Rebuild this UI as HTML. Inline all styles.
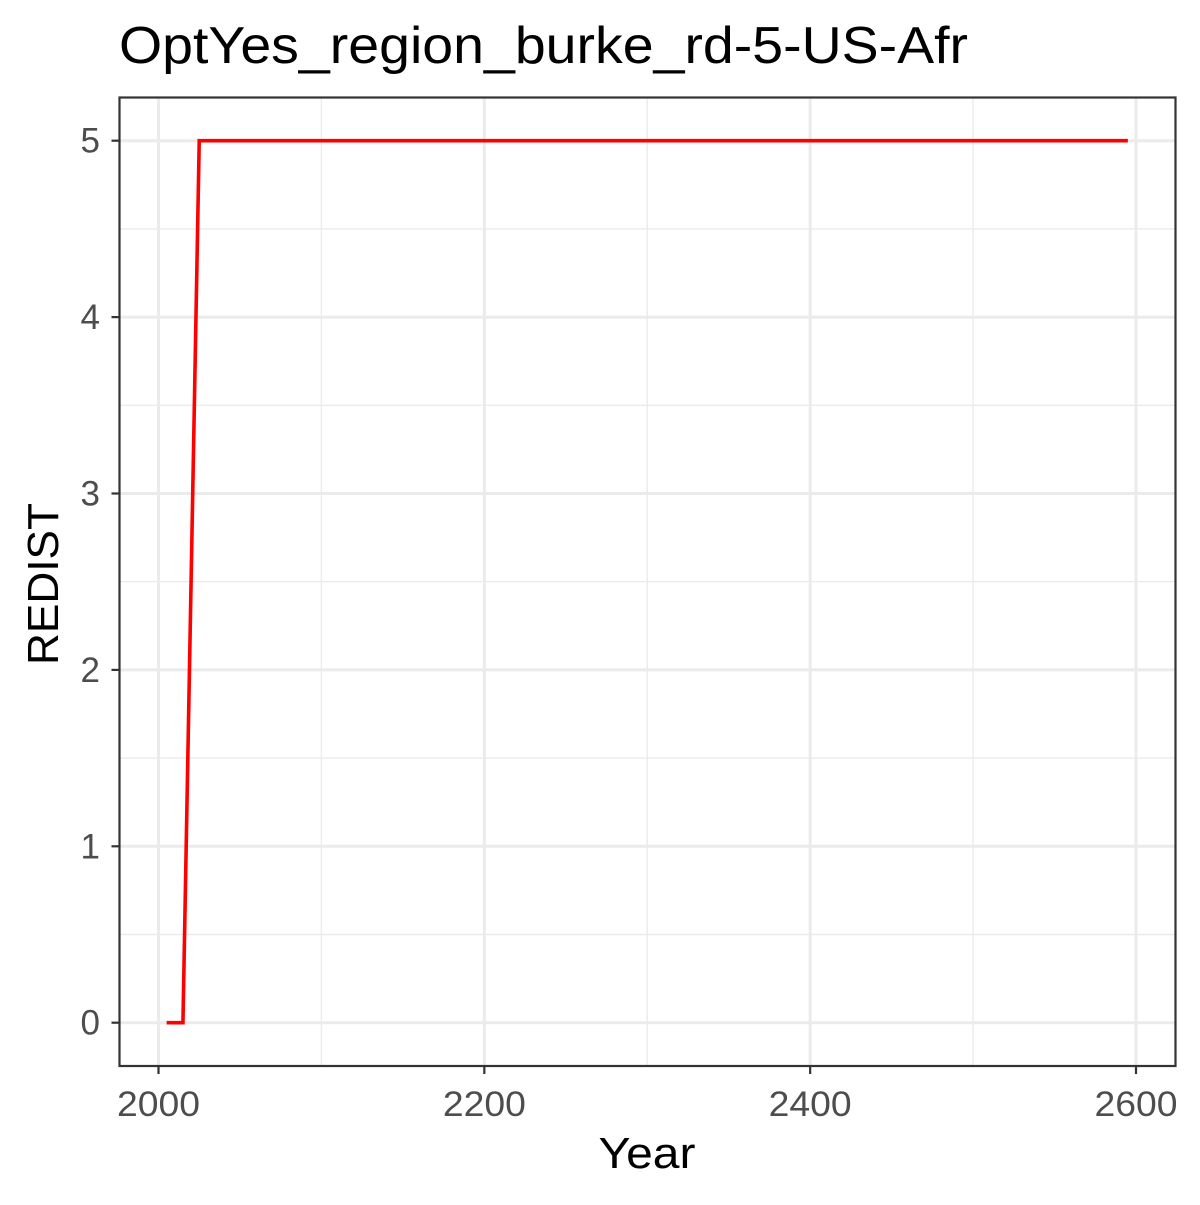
<!DOCTYPE html>
<html><head><meta charset="utf-8"><style>
body{margin:0;background:#fff}
svg text{font-family:"Liberation Sans",Arial,sans-serif}
</style></head><body>
<svg id="c" width="1200" height="1200" xmlns="http://www.w3.org/2000/svg">
<rect width="1200" height="1200" fill="#fff"/>
<text x="119" y="63" font-size="52" textLength="849" lengthAdjust="spacingAndGlyphs" fill="#000">OptYes_region_burke_rd-5-US-Afr</text>
<g id="grid"></g>
<g id="series"></g>
<rect x="119.5" y="97.5" width="1056" height="968.5" fill="none" stroke="#333" stroke-width="2.2"/>
<g id="axes"></g>
<text x="647" y="1168" font-size="44" textLength="97" lengthAdjust="spacingAndGlyphs" text-anchor="middle" fill="#000">Year</text>
<text transform="translate(58,584) rotate(-90)" font-size="44" textLength="162" lengthAdjust="spacingAndGlyphs" text-anchor="middle" fill="#000">REDIST</text>
</svg>
<script>
const years = [2005, 2015, 2025, 2595];
const redist = [0, 0, 5, 5];
const xTicks = [2000, 2200, 2400, 2600];
const yTicks = [0, 1, 2, 3, 4, 5];
const xMinor = [2100, 2300, 2500];
const yMinor = [0.5, 1.5, 2.5, 3.5, 4.5];

const NS = "http://www.w3.org/2000/svg";
const L = 119.5, R = 1175.5, T = 97.5, B = 1066;
function sx(v){ return 158.5 + (v - 2000) * (1136 - 158.5) / 600; }
function sy(v){ return 1022.7 - v * (1022.7 - 140.7) / 5; }
function mk(tag, attrs, parent){ const e = document.createElementNS(NS, tag); for (const k in attrs) e.setAttribute(k, attrs[k]); parent.appendChild(e); return e; }
const grid = document.getElementById('grid');
const axes = document.getElementById('axes');
const series = document.getElementById('series');

xMinor.forEach(v => {
  const l = mk('line', {x1: sx(v), x2: sx(v), y1: T, y2: B, stroke: '#ebebeb', 'stroke-width': 1.4}, grid);
  
  
});
yMinor.forEach(v => {
  const l = mk('line', {x1: L, x2: R, y1: sy(v), y2: sy(v), stroke: '#ebebeb', 'stroke-width': 1.4}, grid);
  
  
});
xTicks.forEach(v => {
  const l = mk('line', {x1: sx(v), x2: sx(v), y1: T, y2: B, stroke: '#ebebeb', 'stroke-width': 3}, grid);
  
  
  const t = mk('line', {x1: sx(v), x2: sx(v), y1: B, y2: B + 8, stroke: '#333', 'stroke-width': 2.2}, axes);
  
  
  const tx = mk('text', {x: sx(v), y: 1116, 'font-size': 35, textLength: 83, lengthAdjust: 'spacingAndGlyphs', 'text-anchor': 'middle', fill: '#4d4d4d'}, axes);
  tx.textContent = v;
  
  
});
yTicks.forEach(v => {
  const l = mk('line', {x1: L, x2: R, y1: sy(v), y2: sy(v), stroke: '#ebebeb', 'stroke-width': 3}, grid);
  
  
  const t = mk('line', {x1: L - 8, x2: L, y1: sy(v), y2: sy(v), stroke: '#333', 'stroke-width': 2.2}, axes);
  
  
  const tx = mk('text', {x: 100, y: sy(v) + 12, 'font-size': 35, 'text-anchor': 'end', fill: '#4d4d4d'}, axes);
  tx.textContent = v;
  
  
});
const pts = years.map((y, i) => sx(y) + ',' + sy(redist[i])).join(' ');
const pl = mk('polyline', {points: pts, fill: 'none', stroke: '#ff0000', 'stroke-width': 3.6, 'stroke-linejoin': 'miter'}, series);


</script>
</body></html>
